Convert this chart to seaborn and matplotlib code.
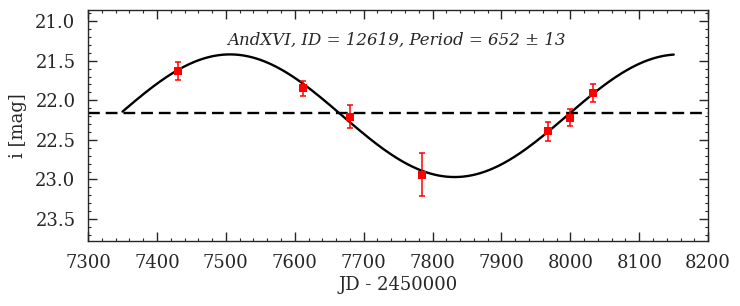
import numpy as np
import pandas as pd
import seaborn as sns
import matplotlib.pyplot as plt
from matplotlib.ticker import AutoMinorLocator

# наблюдения (JD - 2450000, звёздная величина, ошибка)
jd = [7430, 7612, 7680, 7785, 7968, 8000, 8033]
mag = [21.63, 21.85, 22.21, 22.94, 22.39, 22.22, 21.91]
err = [0.11, 0.09, 0.145, 0.27, 0.12, 0.105, 0.115]

# параметры синусоидальной модели
period = 652
mean_mag = 22.195
amp = 0.775
t_max = 7506
t_start, t_end = 7350, 8150
mean_line = 22.16

obs = pd.DataFrame({'jd': jd, 'mag': mag, 'err': err})
t = np.linspace(t_start, t_end, 400)
model = pd.DataFrame({'jd': t, 'mag': mean_mag - amp * np.cos(2 * np.pi * (t - t_max) / period)})

sns.set_style('ticks')
plt.rcParams['font.family'] = ['DejaVu Serif']
plt.rcParams['mathtext.fontset'] = 'dejavuserif'

fig, ax = plt.subplots(figsize=(7.4, 3.06), dpi=100)

sns.lineplot(data=model, x='jd', y='mag', color='black', lw=1.7, ax=ax)
ax.axhline(mean_line, color='black', ls='--', lw=1.7, dashes=(5, 2.5))
ax.errorbar(obs['jd'], obs['mag'], yerr=obs['err'], fmt='none', ecolor='red',
            elinewidth=1.1, capsize=2.5, capthick=1.1, zorder=3)
sns.scatterplot(data=obs, x='jd', y='mag', color='red', marker='s', s=32,
                edgecolor='red', linewidth=0, ax=ax, zorder=4)

ax.text(7748, 21.24, 'AndXVI, ID = 12619, Period = 652 ± 13', style='italic',
        fontsize=12, ha='center', va='center')

ax.set_xlim(7300, 8200)
ax.set_ylim(23.78, 20.86)
ax.set_xticks(range(7300, 8201, 100))
ax.set_yticks([21.0, 21.5, 22.0, 22.5, 23.0, 23.5])
ax.xaxis.set_minor_locator(AutoMinorLocator(5))
ax.yaxis.set_minor_locator(AutoMinorLocator(5))
ax.tick_params(which='both', direction='in', top=True, right=True, labelsize=13)
ax.tick_params(which='major', length=6.5, width=1)
ax.tick_params(which='minor', length=2.5, width=0.8)
ax.tick_params(axis='x', which='major', pad=9)
ax.tick_params(axis='y', which='major', pad=9)
for s in ax.spines.values():
    s.set_linewidth(1)

ax.set_xlabel('JD - 2450000', fontsize=13, labelpad=3)
ax.set_ylabel('i [mag]', fontsize=13, labelpad=6)

plt.subplots_adjust(left=0.119, right=0.957, top=0.967, bottom=0.212)
plt.savefig('out.png', dpi=100)
